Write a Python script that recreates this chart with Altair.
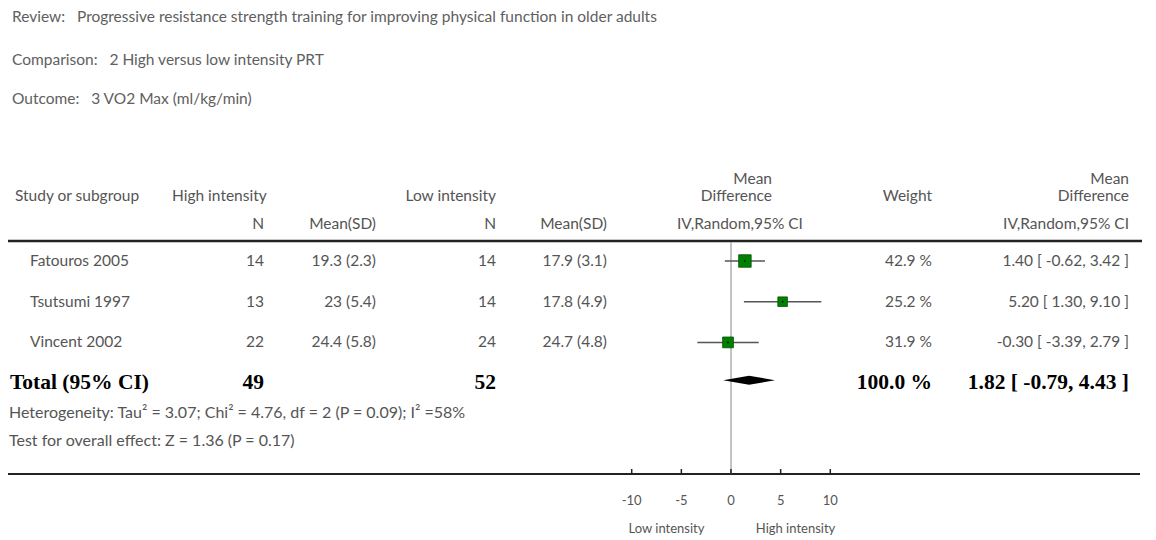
import altair as alt
import pandas as pd

# ---------------- data ----------------
NB = "\u00a0"
review_lines = [
    "Review:" + NB * 3 + "Progressive resistance strength training for improving physical function in older adults",
    "Comparison:" + NB * 3 + "2 High versus low intensity PRT",
    "Outcome:" + NB * 3 + "3 VO2 Max (ml/kg/min)",
]
studies = ["Fatouros 2005", "Tsutsumi 1997", "Vincent 2002"]
n_high = ["14", "13", "22"]
mean_high = ["19.3 (2.3)", "23 (5.4)", "24.4 (5.8)"]
n_low = ["14", "14", "24"]
mean_low = ["17.9 (3.1)", "17.8 (4.9)", "24.7 (4.8)"]
md = [1.40, 5.20, -0.30]
ci_lo = [-0.62, 1.30, -3.39]
ci_hi = [3.42, 9.10, 2.79]
weights = [42.9, 25.2, 31.9]
weight_labels = ["42.9 %", "25.2 %", "31.9 %"]
ci_labels = ["1.40 [ -0.62, 3.42 ]", "5.20 [ 1.30, 9.10 ]", "-0.30 [ -3.39, 2.79 ]"]

total_label = "Total (95% CI)"
total_n_high = "49"
total_n_low = "52"
total_md = 1.82
total_lo = -0.79
total_hi = 4.43
total_weight = "100.0 %"
total_ci = "1.82 [ -0.79, 4.43 ]"
heterogeneity = "Heterogeneity: Tau\u00b2 = 3.07; Chi\u00b2 = 4.76, df = 2 (P = 0.09); I\u00b2 =58%"
overall = "Test for overall effect: Z = 1.36 (P = 0.17)"

axis_ticks = [-10, -5, 0, 5, 10]
axis_left_label = "Low intensity"
axis_right_label = "High intensity"

# ---------------- layout ----------------
W, H = 1140, 532
PX_PER_UNIT = 9.93
ZERO_X = 723
x_dom = [-ZERO_X / PX_PER_UNIT, (W - ZERO_X) / PX_PER_UNIT]
ROW_PX = 40.7
ROW0_Y = 253
y_dom = [-ROW0_Y / ROW_PX, (H - ROW0_Y) / ROW_PX]

xs = alt.Scale(domain=x_dom, range=[0, W], nice=False, zero=False)
ys = alt.Scale(domain=y_dom, range=[0, H], nice=False, zero=False)

FONT = "Lato"
GREY = "#555555"
FS = 15.5

rows = pd.DataFrame({
    "row": list(range(len(studies))),
    "study": studies, "n_high": n_high, "mean_high": mean_high,
    "n_low": n_low, "mean_low": mean_low, "md": md, "lo": ci_lo, "hi": ci_hi,
    "w": weights, "wl": weight_labels, "cil": ci_labels,
})

base = alt.Chart(rows)


def col_text(field, x, align):
    return base.mark_text(align=align, baseline="middle", font=FONT, fontSize=FS, color=GREY).encode(
        x=alt.value(x), y=alt.Y("row:Q", scale=ys, axis=None), text=f"{field}:N")


def fixed_text(txt, x, y, align="left", size=FS, color=GREY, font=FONT, weight="normal"):
    return alt.Chart(pd.DataFrame({"t": [txt]})).mark_text(
        align=align, baseline="middle", font=font, fontSize=size, color=color, fontWeight=weight
    ).encode(x=alt.value(x), y=alt.value(y), text="t:N")


layers = []
# titles
for i, ty in enumerate([9, 52, 91]):
    layers.append(fixed_text(review_lines[i], 4, ty, size=15.5, color="#606060"))

# headers
layers += [
    fixed_text("Study or subgroup", 7, 188),
    fixed_text("High intensity", 164, 188),
    fixed_text("Low intensity", 488, 188, align="right"),
    fixed_text("Mean", 764, 171, align="right"),
    fixed_text("Difference", 764, 188, align="right"),
    fixed_text("Weight", 924, 188, align="right"),
    fixed_text("Mean", 1121, 171, align="right"),
    fixed_text("Difference", 1121, 188, align="right"),
    fixed_text("N", 256, 216, align="right"),
    fixed_text("Mean(SD)", 368, 216, align="right"),
    fixed_text("N", 488, 216, align="right"),
    fixed_text("Mean(SD)", 599, 216, align="right"),
    fixed_text("IV,Random,95% CI", 732, 216, align="center"),
    fixed_text("IV,Random,95% CI", 1121, 216, align="right"),
]

# header rule and bottom rule
rule_df = pd.DataFrame({"a": [0]})
layers.append(alt.Chart(rule_df).mark_rule(color="#222222", strokeWidth=2.5).encode(
    x=alt.value(0), x2=alt.value(1134), y=alt.value(233)))
layers.append(alt.Chart(rule_df).mark_rule(color="#222222", strokeWidth=2).encode(
    x=alt.value(0), x2=alt.value(1132), y=alt.value(466)))

# zero line
layers.append(alt.Chart(pd.DataFrame({"z": [0]})).mark_rule(color="#888888", strokeWidth=1).encode(
    x=alt.X("z:Q", scale=xs, axis=None), y=alt.value(234), y2=alt.value(466)))

# table columns
layers += [
    col_text("study", 22, "left"),
    col_text("n_high", 256, "right"),
    col_text("mean_high", 368, "right"),
    col_text("n_low", 488, "right"),
    col_text("mean_low", 599, "right"),
    col_text("wl", 924, "right"),
    col_text("cil", 1121, "right"),
]

# CI lines
layers.append(base.mark_rule(color="#555555", strokeWidth=1.5).encode(
    x=alt.X("lo:Q", scale=xs, axis=None), x2="hi:Q", y=alt.Y("row:Q", scale=ys, axis=None)))
# squares
layers.append(base.mark_square(color="#008000", opacity=1, stroke="#005500", strokeWidth=0.8).encode(
    x=alt.X("md:Q", scale=xs, axis=None), y=alt.Y("row:Q", scale=ys, axis=None),
    size=alt.Size("w:Q", scale=alt.Scale(domain=[0, 100], range=[0, 365]), legend=None)))
layers.append(base.mark_point(filled=True, color="#000000", size=3, opacity=1).encode(
    x=alt.X("md:Q", scale=xs, axis=None), y=alt.Y("row:Q", scale=ys, axis=None)))

# total row
TOTAL_ROW = 3


def total_text(txt, x, align):
    return alt.Chart(pd.DataFrame({"row": [TOTAL_ROW], "t": [txt]})).mark_text(
        align=align, baseline="middle", font="Liberation Serif", fontSize=21.5, fontWeight="bold", color="#000000"
    ).encode(x=alt.value(x), y=alt.Y("row:Q", scale=ys, axis=None), text="t:N")


layers += [
    total_text(total_label, 2, "left"),
    total_text(total_n_high, 256, "right"),
    total_text(total_n_low, 488, "right"),
    total_text(total_weight, 924, "right"),
    total_text(total_ci, 1121, "right"),
]
half = 4.5 / ROW_PX
dc = TOTAL_ROW - 0.07
diamond = pd.DataFrame({
    "x": [total_lo, total_md, total_hi],
    "y": [dc, dc - half, dc],
    "y2": [dc, dc + half, dc],
})
layers.append(alt.Chart(diamond).mark_area(color="#000000", opacity=1).encode(
    x=alt.X("x:Q", scale=xs, axis=None), y=alt.Y("y:Q", scale=ys, axis=None), y2="y2:Q"))

layers.append(fixed_text(heterogeneity, 1, 405, size=16))
layers.append(fixed_text(overall, 1, 433, size=16))

# axis ticks and labels
tick_df = pd.DataFrame({"t": axis_ticks, "lab": [str(v) for v in axis_ticks]})
layers.append(alt.Chart(tick_df).mark_rule(color="#222222", strokeWidth=1.5).encode(
    x=alt.X("t:Q", scale=xs, axis=None), y=alt.value(461), y2=alt.value(466)))
layers.append(alt.Chart(tick_df).mark_text(font=FONT, fontSize=13, color=GREY, baseline="middle").encode(
    x=alt.X("t:Q", scale=xs, axis=None), y=alt.value(493), text="lab:N"))
side_df = pd.DataFrame({"p": [-6.5, 6.5], "lab": [axis_left_label, axis_right_label]})
layers.append(alt.Chart(side_df).mark_text(font=FONT, fontSize=13, color=GREY, baseline="middle").encode(
    x=alt.X("p:Q", scale=xs, axis=None), y=alt.value(521), text="lab:N"))

chart = alt.layer(*layers).properties(
    width=W, height=H, padding=0, autosize=alt.AutoSizeParams(type="none")
).configure_view(stroke=None)
chart.save("out.html", embed_options={"renderer": "svg", "actions": False})
